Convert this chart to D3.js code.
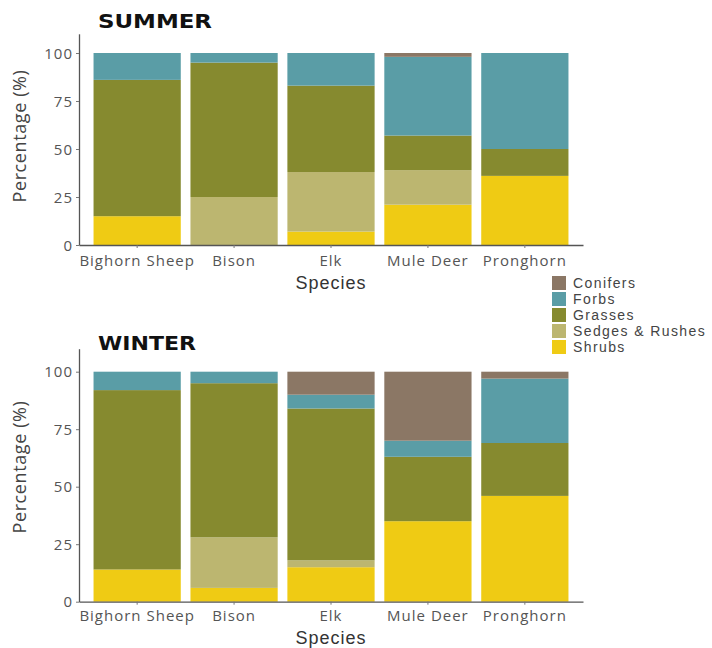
<!DOCTYPE html>
<html>
<head>
<meta charset="utf-8">
<script src="https://cdn.jsdelivr.net/npm/d3@7"></script>
<style>
  body { margin: 0; background: #fff; }
  svg { display: block; font-family: "Open Sans", "Noto Sans", sans-serif; }
</style>
</head>
<body>
<svg id="chart" width="712" height="648"></svg>
<script>
const species = ["Bighorn Sheep", "Bison", "Elk", "Mule Deer", "Pronghorn"];
const categories = ["Conifers", "Forbs", "Grasses", "Sedges & Rushes", "Shrubs"];
const colors = ["#8b7765", "#5a9da6", "#868a2f", "#bcb670", "#efcb14"];
const yTicks = [0, 25, 50, 75, 100];

// values per species, in order of `species`
const summerShrubs   = [15, 0, 7, 21, 36];
const summerSedges   = [0, 25, 31, 18, 0];
const summerGrasses  = [71, 70, 45, 18, 14];
const summerForbs    = [14, 5, 17, 41, 50];
const summerConifers = [0, 0, 0, 2, 0];

const winterShrubs   = [14, 6, 15, 35, 46];
const winterSedges   = [0, 22, 3, 0, 0];
const winterGrasses  = [78, 67, 66, 28, 23];
const winterForbs    = [8, 5, 6, 7, 28];
const winterConifers = [0, 0, 10, 30, 3];

function toRows(sh, se, gr, fo, co) {
  return species.map((s, i) => ({
    species: s,
    "Shrubs": sh[i], "Sedges & Rushes": se[i], "Grasses": gr[i],
    "Forbs": fo[i], "Conifers": co[i]
  }));
}

const panels = [
  { title: "SUMMER", rows: toRows(summerShrubs, summerSedges, summerGrasses, summerForbs, summerConifers),
    y0: 245, y1: 33.8, titleY: 28, titleW: 114, yTitleY: 136, tickLabelY: 266, xTitleY: 289 },
  { title: "WINTER", rows: toRows(winterShrubs, winterSedges, winterGrasses, winterForbs, winterConifers),
    y0: 601.7, y1: 348.7, titleY: 350, titleW: 98, yTitleY: 467, tickLabelY: 621, xTitleY: 644 }
];

const svg = d3.select("#chart");
const color = d3.scaleOrdinal().domain(categories).range(colors);
const stackKeys = ["Shrubs", "Sedges & Rushes", "Grasses", "Forbs", "Conifers"];
const stack = d3.stack().keys(stackKeys);

const xLeft = 79, xRight = 583;
const x = d3.scaleBand().domain(species).range([xLeft, xRight]).paddingInner(0.1).paddingOuter(0.15);

panels.forEach(p => {
  const y = d3.scaleLinear().domain([0, 110]).range([p.y0, p.y1]);
  const g = svg.append("g");

  const series = stack(p.rows);
  g.selectAll("g.layer").data(series).join("g")
    .attr("fill", d => color(d.key))
    .selectAll("rect").data(d => d).join("rect")
      .attr("x", d => x(d.data.species))
      .attr("width", x.bandwidth())
      .attr("y", d => y(d[1]))
      .attr("height", d => Math.max(0, y(d[0]) - y(d[1])));

  // axes
  const yAxis = g.append("g").attr("transform", `translate(${xLeft},0)`)
    .call(d3.axisLeft(y).tickValues(yTicks).tickSize(3).tickPadding(3).tickSizeOuter(0));
  const xAxis = g.append("g").attr("transform", `translate(0,${p.y0})`)
    .call(d3.axisBottom(x).tickSize(3).tickPadding(4).tickSizeOuter(0));
  [yAxis, xAxis].forEach(a => {
    a.select(".domain").attr("stroke", "#555").attr("stroke-width", 1.3);
    a.selectAll(".tick line").attr("stroke", "#777");
    a.selectAll(".tick text").attr("fill", "#555").style("font-size", "15px")
      .style("letter-spacing", "1px")
      .style("font-family", '"Open Sans", sans-serif');
  });
  xAxis.selectAll(".tick text").attr("y", null).attr("dy", null)
    .attr("transform", null).attr("y", p.tickLabelY - p.y0);
  yAxis.selectAll(".tick text").attr("dy", "0.35em");

  g.append("text").attr("x", 98).attr("y", p.titleY)
    .style("font-family", '"DejaVu Sans", sans-serif')
    .style("font-size", "20px").style("font-weight", "bold").attr("fill", "#111")
    .attr("textLength", p.titleW).attr("lengthAdjust", "spacingAndGlyphs")
    .text(p.title);

  g.append("text")
    .attr("transform", `translate(26,${p.yTitleY}) rotate(-90)`)
    .attr("text-anchor", "middle").style("font-size", "18px").attr("fill", "#444")
    .style("letter-spacing", "0.6px")
    .text("Percentage (%)");

  g.append("text").attr("x", (xLeft + xRight) / 2).attr("y", p.xTitleY)
    .attr("text-anchor", "middle")
    .style("font-family", '"Liberation Sans", Arial, sans-serif')
    .style("font-size", "18px").attr("fill", "#333")
    .style("letter-spacing", "1px")
    .text("Species");
});

// legend
const legend = svg.append("g").attr("transform", "translate(552,276)");
categories.forEach((c, i) => {
  const row = legend.append("g").attr("transform", `translate(0,${i * 16})`);
  row.append("rect").attr("width", 14).attr("height", 14).attr("fill", color(c));
  row.append("text").attr("x", 21).attr("y", 7).attr("dy", "0.35em")
    .style("font-family", '"Liberation Sans", Arial, sans-serif')
    .style("font-size", "14px").style("letter-spacing", "1.4px")
    .attr("fill", "#444").text(c);
});
</script>
</body>
</html>
